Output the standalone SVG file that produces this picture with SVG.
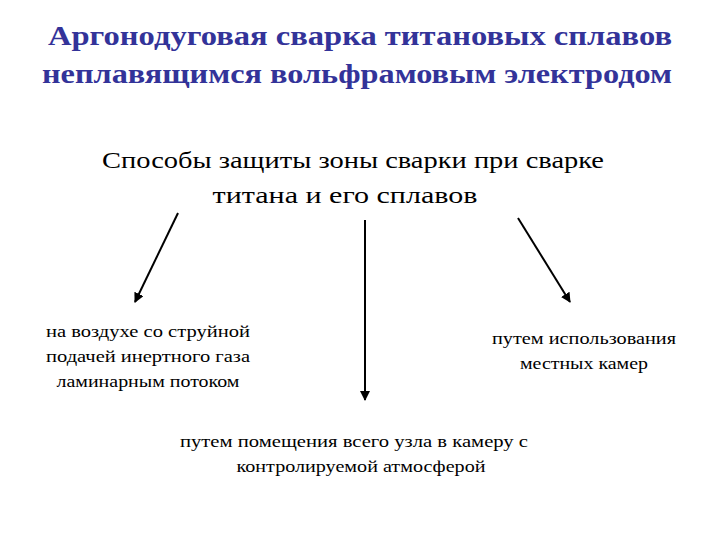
<svg xmlns="http://www.w3.org/2000/svg" width="720" height="540" viewBox="0 0 720 540">
<style>
text{font-family:"Liberation Serif","DejaVu Serif",serif;text-anchor:middle;fill:#000}
.t{font-weight:bold;font-size:28px;fill:#333399}
.s{font-size:24px}
.n{font-size:16px}
.c{stroke:#000;stroke-width:2;fill:none;marker-end:url(#a)}
</style>
<defs><marker id="a" viewBox="0 0 10 10" refX="9" refY="5" markerWidth="5" markerHeight="5" orient="auto"><path d="M0,0L10,5L0,10z" fill="#000"/></marker></defs>
<rect width="720" height="540" fill="#fff"/>
<g id="title"><text class="t" x="360" y="45" textLength="624" lengthAdjust="spacingAndGlyphs">Аргонодуговая сварка титановых сплавов</text><text class="t" x="357" y="83" textLength="630" lengthAdjust="spacingAndGlyphs">неплавящимся вольфрамовым электродом</text></g>
<g id="root"><text class="s" x="353" y="168" textLength="502" lengthAdjust="spacingAndGlyphs">Способы защиты зоны сварки при сварке</text><text class="s" x="345" y="203" textLength="265" lengthAdjust="spacingAndGlyphs">титана и его сплавов</text></g>
<g id="connectors"><line class="c" x1="178" y1="213" x2="135" y2="302"/><line class="c" x1="365" y1="220" x2="365" y2="400"/><line class="c" x1="518" y1="218" x2="570" y2="302"/></g>
<g id="left"><text class="n" x="148" y="337" textLength="204" lengthAdjust="spacingAndGlyphs">на воздухе со струйной</text><text class="n" x="148" y="362" textLength="204" lengthAdjust="spacingAndGlyphs">подачей инертного газа</text><text class="n" x="148" y="387" textLength="183" lengthAdjust="spacingAndGlyphs">ламинарным потоком</text></g>
<g id="right"><text class="n" x="584" y="344" textLength="184" lengthAdjust="spacingAndGlyphs">путем использования</text><text class="n" x="584" y="369" textLength="128" lengthAdjust="spacingAndGlyphs">местных камер</text></g>
<g id="bottom"><text class="n" x="354" y="447" textLength="348" lengthAdjust="spacingAndGlyphs">путем помещения всего узла в камеру с</text><text class="n" x="361" y="472" textLength="249" lengthAdjust="spacingAndGlyphs">контролируемой атмосферой</text></g>
</svg>
